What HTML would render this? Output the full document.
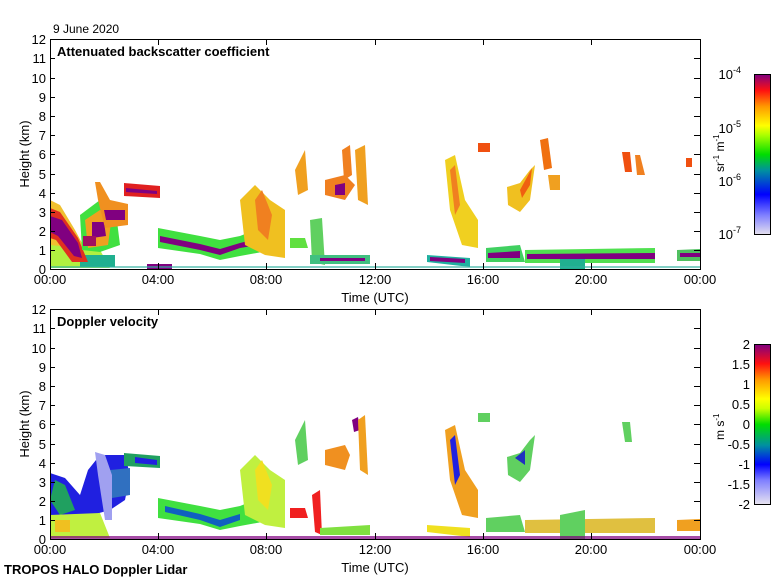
<!DOCTYPE html>
<html><head><meta charset="utf-8"><style>
body{margin:0;background:#fff;width:780px;height:580px;overflow:hidden}
svg text{font-family:"Liberation Sans",sans-serif;fill:#000}
</style></head><body>
<svg width="780" height="580" xmlns="http://www.w3.org/2000/svg">
<defs>
<linearGradient id="cb1" x1="0" y1="1" x2="0" y2="0">
<stop offset="0" stop-color="#e4e0ee"/><stop offset="0.12" stop-color="#8080ff"/><stop offset="0.25" stop-color="#0000ff"/><stop offset="0.4" stop-color="#0090a0"/><stop offset="0.5" stop-color="#00dd00"/><stop offset="0.62" stop-color="#aaff00"/><stop offset="0.68" stop-color="#ffff00"/><stop offset="0.8" stop-color="#ff9900"/><stop offset="0.9" stop-color="#ff1010"/><stop offset="1" stop-color="#800080"/>
</linearGradient>
<linearGradient id="cb2" x1="0" y1="1" x2="0" y2="0">
<stop offset="0" stop-color="#e8e4f0"/><stop offset="0.15" stop-color="#8080ff"/><stop offset="0.25" stop-color="#0000ff"/><stop offset="0.37" stop-color="#0090a0"/><stop offset="0.5" stop-color="#00dd00"/><stop offset="0.6" stop-color="#ccff00"/><stop offset="0.66" stop-color="#ffff00"/><stop offset="0.78" stop-color="#ff9900"/><stop offset="0.88" stop-color="#ff1010"/><stop offset="1" stop-color="#800080"/>
</linearGradient>
</defs>

<!-- TOP PLOT DATA -->
<g>
<polygon points="50,200 60,205 75,230 92,262 70,266 50,258" fill="#f0c030"/>
<polygon points="50,245 100,250 110,268 50,268" fill="#b0f040"/>
<polygon points="80,255 115,255 115,267 80,267" fill="#20b090"/>
<polygon points="50,208 60,212 78,238 88,262 72,262 56,240 50,238" fill="#e03020"/>
<polygon points="50,216 62,220 78,243 82,258 74,256 58,236 50,232" fill="#800080"/>
<polygon points="80,215 100,200 115,205 120,245 100,252 82,250" fill="#40e040"/>
<polygon points="85,220 100,210 112,215 108,245 88,248" fill="#f0a020"/>
<polygon points="92,222 104,222 106,236 92,238" fill="#800080"/>
<polygon points="83,236 96,236 96,246 83,246" fill="#a01060"/>
<polygon points="95,182 100,182 110,200 128,204 128,225 105,228 98,200" fill="#f09020"/>
<polygon points="104,210 125,210 125,220 106,220" fill="#800080"/>
<polygon points="124,183 160,186 160,198 124,196" fill="#e02020"/>
<polygon points="126,188 157,191 157,194 126,192" fill="#800080"/>
<polygon points="158,228 200,236 220,240 240,236 250,232 262,235 262,252 240,256 220,260 200,254 158,248" fill="#40e040"/>
<polygon points="160,236 200,244 220,249 240,243 252,240 252,246 240,248 220,255 200,250 160,242" fill="#800080"/>
<polygon points="240,200 255,185 270,200 285,210 285,258 265,255 245,245" fill="#f0c020"/>
<polygon points="255,200 262,190 272,215 268,240 258,230" fill="#f08020"/>
<polygon points="290,238 305,238 308,248 290,248" fill="#60e040"/>
<polygon points="310,220 322,218 325,265 312,262" fill="#60d060"/>
<polygon points="310,255 370,255 370,264 310,264" fill="#40c080"/>
<polygon points="320,258 365,258 365,261 320,261" fill="#800080"/>
<polygon points="295,170 305,150 308,190 298,195" fill="#f0a020"/>
<polygon points="325,180 345,175 355,185 345,200 325,195" fill="#f08020"/>
<polygon points="335,185 345,183 345,195 335,195" fill="#800080"/>
<polygon points="342,150 350,145 352,175 344,180" fill="#f08020"/>
<polygon points="355,150 365,145 368,205 358,200" fill="#f0a020"/>
<polygon points="427,255 470,258 470,267 427,262" fill="#20b0a0"/>
<polygon points="430,257 465,259 465,263 430,261" fill="#800080"/>
<polygon points="445,160 455,155 465,200 478,220 478,248 462,245 450,210" fill="#f0d020"/>
<polygon points="450,170 455,165 460,205 455,215" fill="#f08020"/>
<polygon points="478,143 490,143 490,152 478,152" fill="#f05010"/>
<polygon points="486,248 520,245 525,262 486,262" fill="#40d060"/>
<polygon points="488,253 520,251 520,258 488,258" fill="#800080"/>
<polygon points="507,187 520,183 530,170 535,165 530,200 520,212 508,205" fill="#f0c020"/>
<polygon points="520,190 532,168 530,185 522,198" fill="#f06010"/>
<polygon points="540,140 548,138 552,168 544,170" fill="#f07010"/>
<polygon points="548,175 560,175 560,190 550,190" fill="#f0a020"/>
<polygon points="525,250 655,248 655,263 525,263" fill="#50e050"/>
<polygon points="560,258 585,258 585,269 560,269" fill="#20b090"/>
<polygon points="527,254 655,253 655,259 527,259" fill="#800080"/>
<polygon points="622,152 630,152 632,172 625,172" fill="#f05010"/>
<polygon points="635,155 640,155 645,175 637,175" fill="#f08020"/>
<polygon points="677,250 700,249 700,261 677,261" fill="#50c060"/>
<polygon points="680,253 700,253 700,257 680,257" fill="#800080"/>
<polygon points="686,158 692,158 692,167 686,167" fill="#f05010"/>
<rect x="147" y="264" width="25" height="5" fill="#800080"/>
<rect x="50" y="266" width="650" height="2" fill="#30b0a0" opacity="0.6"/>
</g>

<!-- BOTTOM PLOT DATA -->
<g transform="translate(0,270)">
<polygon points="50,203 65,208 80,225 88,200 100,185 125,185 130,205 125,230 110,240 92,245 82,262 50,258" fill="#2020e0"/>
<polygon points="55,210 65,215 75,240 60,245 50,230" fill="#20a060"/>
<polygon points="110,200 130,198 130,225 112,228" fill="#3070c0"/>
<polygon points="50,245 100,243 110,268 50,268" fill="#c0f040"/>
<polygon points="55,250 70,250 70,262 55,262" fill="#f0c020"/>
<polygon points="95,182 105,185 112,205 112,250 105,250 98,205" fill="#a0a0f0"/>
<polygon points="124,183 160,186 160,198 124,196" fill="#20a060"/>
<polygon points="135,187 157,190 157,195 135,193" fill="#2020e0"/>
<polygon points="158,228 200,236 220,240 240,236 250,232 262,235 262,252 240,256 220,260 200,254 158,248" fill="#40e040"/>
<polygon points="165,236 200,244 220,250 240,244 240,250 220,257 200,250 165,242" fill="#1060c0"/>
<polygon points="240,200 255,185 270,200 285,210 285,258 265,255 245,245" fill="#c0f040"/>
<polygon points="255,200 262,190 272,215 268,240 258,230" fill="#f0e020"/>
<polygon points="290,238 305,238 308,248 290,248" fill="#f02020"/>
<polygon points="312,225 320,220 322,265 315,262" fill="#f02020"/>
<polygon points="320,258 370,255 370,265 320,265" fill="#80e040"/>
<polygon points="295,170 305,150 308,190 298,195" fill="#60d060"/>
<polygon points="325,180 345,175 350,185 345,200 325,195" fill="#f09020"/>
<polygon points="352,150 358,147 360,160 354,162" fill="#800080"/>
<polygon points="358,150 365,145 368,205 360,200" fill="#f0a020"/>
<polygon points="427,255 470,258 470,267 427,262" fill="#f0e020"/>
<polygon points="445,160 455,155 465,200 478,220 478,248 462,245 450,210" fill="#f0a020"/>
<polygon points="450,170 455,165 460,205 455,215" fill="#2020e0"/>
<polygon points="478,143 490,143 490,152 478,152" fill="#60d060"/>
<polygon points="486,248 520,245 525,262 486,262" fill="#60d060"/>
<polygon points="507,187 520,183 530,170 535,165 530,200 520,212 508,205" fill="#60d060"/>
<polygon points="515,188 525,180 525,195" fill="#2030c0"/>
<polygon points="525,250 655,248 655,263 525,263" fill="#e0c040"/>
<polygon points="560,245 585,240 585,269 560,269" fill="#60d060"/>
<polygon points="622,152 630,152 632,172 625,172" fill="#60d060"/>
<polygon points="677,250 700,249 700,261 677,261" fill="#f0a020"/>
<rect x="50" y="266" width="650" height="3" fill="#800080" opacity="0.7"/>
</g>

<!-- AXES -->
<g stroke="#000" stroke-width="1" fill="none">
<rect x="50.5" y="39.5" width="650" height="230"/>
<rect x="50.5" y="309.5" width="650" height="230"/>
</g>
<g stroke="#000" stroke-width="1">
<path d="M158.5,269v-6M266.5,269v-6M375.5,269v-6M483.5,269v-6M591.5,269v-6M158.5,39v6M266.5,39v6M375.5,39v6M483.5,39v6M591.5,39v6"/>
<path d="M158.5,539v-6M266.5,539v-6M375.5,539v-6M483.5,539v-6M591.5,539v-6M158.5,309v6M266.5,309v6M375.5,309v6M483.5,309v6M591.5,309v6"/>
<path d="M50,250.5h5M50,231.5h5M50,212.5h5M50,193.5h5M50,174.5h5M50,154.5h5M50,135.5h5M50,116.5h5M50,97.5h5M50,78.5h5M50,58.5h5M700,250.5h-6M700,231.5h-6M700,212.5h-6M700,193.5h-6M700,174.5h-6M700,154.5h-6M700,135.5h-6M700,116.5h-6M700,97.5h-6M700,78.5h-6M700,58.5h-6"/>
<path d="M50,520.5h5M50,501.5h5M50,482.5h5M50,463.5h5M50,444.5h5M50,424.5h5M50,405.5h5M50,386.5h5M50,367.5h5M50,348.5h5M50,328.5h5M700,520.5h-6M700,501.5h-6M700,482.5h-6M700,463.5h-6M700,444.5h-6M700,424.5h-6M700,405.5h-6M700,386.5h-6M700,367.5h-6M700,348.5h-6M700,328.5h-6"/>
</g>
<g font-size="13" text-anchor="end">
<text x="46" y="274">0</text><text x="46" y="255">1</text><text x="46" y="236">2</text><text x="46" y="217">3</text><text x="46" y="198">4</text><text x="46" y="179">5</text><text x="46" y="159">6</text><text x="46" y="140">7</text><text x="46" y="121">8</text><text x="46" y="102">9</text><text x="46" y="83">10</text><text x="46" y="63">11</text><text x="46" y="44">12</text>
<text x="46" y="544">0</text><text x="46" y="525">1</text><text x="46" y="506">2</text><text x="46" y="487">3</text><text x="46" y="468">4</text><text x="46" y="449">5</text><text x="46" y="429">6</text><text x="46" y="410">7</text><text x="46" y="391">8</text><text x="46" y="372">9</text><text x="46" y="353">10</text><text x="46" y="333">11</text><text x="46" y="314">12</text>
</g>
<g font-size="13" text-anchor="middle">
<text x="50" y="284">00:00</text><text x="158" y="284">04:00</text><text x="266" y="284">08:00</text><text x="375" y="284">12:00</text><text x="483" y="284">16:00</text><text x="591" y="284">20:00</text><text x="700" y="284">00:00</text>
<text x="375" y="302">Time (UTC)</text>
<text x="50" y="554">00:00</text><text x="158" y="554">04:00</text><text x="266" y="554">08:00</text><text x="375" y="554">12:00</text><text x="483" y="554">16:00</text><text x="591" y="554">20:00</text><text x="700" y="554">00:00</text>
<text x="375" y="572">Time (UTC)</text>
<text transform="translate(29,154) rotate(-90)">Height (km)</text>
<text transform="translate(29,424) rotate(-90)">Height (km)</text>
</g>
<text x="53" y="33" font-size="12">9 June 2020</text>
<text x="57" y="56" font-size="13" font-weight="bold">Attenuated backscatter coefficient</text>
<text x="57" y="326" font-size="13" font-weight="bold">Doppler velocity</text>
<text x="4" y="574" font-size="13" font-weight="bold">TROPOS HALO Doppler Lidar</text>

<!-- COLORBARS -->
<rect x="754.5" y="74.5" width="16" height="160" fill="url(#cb1)" stroke="#000"/>
<rect x="754.5" y="344.5" width="16" height="160" fill="url(#cb2)" stroke="#000"/>
<g font-size="13" text-anchor="end">
<text x="741" y="79">10<tspan font-size="9" dy="-6">-4</tspan></text>
<text x="741" y="133">10<tspan font-size="9" dy="-6">-5</tspan></text>
<text x="741" y="186">10<tspan font-size="9" dy="-6">-6</tspan></text>
<text x="741" y="239">10<tspan font-size="9" dy="-6">-7</tspan></text>
<text x="750" y="349">2</text><text x="750" y="369">1.5</text><text x="750" y="389">1</text><text x="750" y="409">0.5</text><text x="750" y="429">0</text><text x="750" y="449">-0.5</text><text x="750" y="469">-1</text><text x="750" y="489">-1.5</text><text x="750" y="509">-2</text>
</g>
<text transform="translate(724,172) rotate(-90)" font-size="12">sr<tspan font-size="8" dy="-5">-1</tspan><tspan dy="5"> m</tspan><tspan font-size="8" dy="-5">-1</tspan></text>
<text transform="translate(724,440) rotate(-90)" font-size="12">m s<tspan font-size="8" dy="-5">-1</tspan></text>
</svg>
</body></html>
